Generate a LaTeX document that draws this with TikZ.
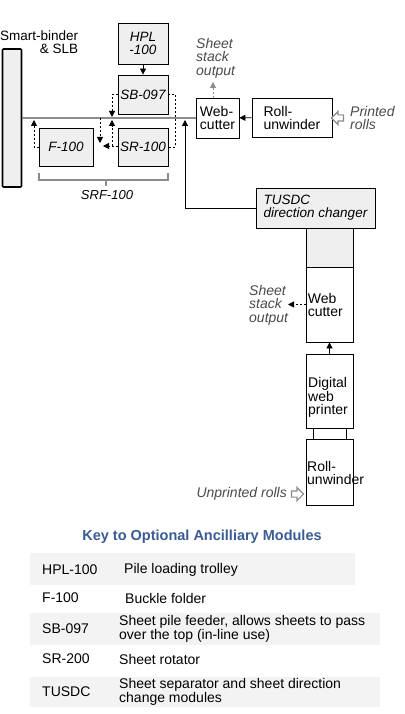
\documentclass[tikz,border=0pt]{standalone}
\usepackage{fontspec}
\setmainfont{Liberation Sans}
\usetikzlibrary{arrows.meta,shapes.arrows}

\definecolor{boxgrey}{HTML}{EFEFEF}
\definecolor{bandgrey}{HTML}{F3F3F3}
\definecolor{linegrey}{HTML}{8C8C8C}
\definecolor{labelgrey}{HTML}{4A4A4A}
\definecolor{keyblue}{HTML}{3B5B95}

\tikzset{
	module/.style={draw, line width=0.8pt, fill=boxgrey, inner sep=1pt, align=center, font=\fontsize{13.5}{13}\selectfont\itshape},
	whitebox/.style={draw, line width=0.8pt, fill=white, inner sep=1pt, align=left, font=\fontsize{14}{13}\selectfont},
	boxtext/.style={anchor=west, inner sep=0pt, align=left, font=\fontsize{14}{13}\selectfont},
	notetext/.style={text=labelgrey, inner sep=0pt, align=left, font=\fontsize{14}{13.5}\selectfont\itshape},
	flow/.style={line width=0.8pt, -{Triangle[length=6pt,width=6pt]}},
	dashflow/.style={flow, dash pattern=on 2pt off 2pt},
	inarrow/.style={single arrow, draw=linegrey, line width=1.1pt, fill=white, minimum height=12pt, minimum width=12pt, inner xsep=0pt, inner ysep=2.5pt, single arrow head extend=3.5pt},
	keytext/.style={anchor=west, inner sep=0pt, align=left, font=\fontsize{14}{14}\selectfont},
}

\begin{document}
\begin{tikzpicture}[x=1pt, y=-1pt]
\useasboundingbox (0,0) rectangle (404,714);

% upper line
\node[draw, line width=1.6pt, fill=boxgrey, rounded corners=1pt, minimum width=19pt, minimum height=138pt] (binder) at (12,118) {};
\node[anchor=north west, inner sep=0pt, align=right, font=\fontsize{13.5}{12.5}\selectfont] (bindertxt) at (0,31) {Smart-binder\\\& SLB};

\node[module, minimum width=50pt, minimum height=41pt] (hpl) at (143,43.5) {HPL\\-100};
\node[module, minimum width=50pt, minimum height=39pt] (sbox) at (143,94.5) {SB-097};
\node[module, minimum width=54pt, minimum height=38pt] (fold) at (66,147) {F-100};
\node[module, minimum width=50pt, minimum height=38pt] (srot) at (143,147) {SR-100};

\node[whitebox, minimum width=43pt, minimum height=40pt] (wcut) at (217.5,118) {Web-\\cutter};
\node[whitebox, minimum width=80pt, minimum height=39pt] (unw) at (292,117.5) {Roll-\\unwinder};

\draw[linegrey, line width=2pt] (binder.east) -- (wcut.west);
\draw[flow] (hpl) -- (sbox);
\draw[flow] (unw) -- (wcut);

\coordinate (fup) at (34,120);
\coordinate (sbdn) at (112,117);
\coordinate (srup) at (112,120);
\coordinate (srfrom) at (112,146);
\coordinate (srleft) at (103,146);
\coordinate (lndn) at (100,143);
\draw[dashflow] (fold.west) -| (fup);
\draw[dashflow] (sbox.west) -| (sbdn);
\draw[dashflow] (srot.west |- srleft) -- (srleft);
\draw[dashflow] (srfrom) -- (srup);
\draw[dashflow] (lndn |- binder.east) -- (lndn);
\draw[line width=0.8pt, dash pattern=on 2pt off 2pt] (sbox.east) -- ++(7,0) |- (srot.east);

\draw[linegrey, line width=1.2pt] (39,173) -- (39,180) -- (168,180) -- (168,173);
\draw[linegrey, line width=1.2pt] (106,180) -- (106,186);
\node[font=\fontsize{13}{13}\selectfont\itshape] (srf) at (107,195) {SRF-100};

\coordinate (so1) at (213,82);
\draw[dashflow, linegrey] (so1 |- wcut.north) -- (so1);
\node[notetext, anchor=west] (so1txt) at (196,58) {Sheet\\stack\\output};
\node[inarrow, shape border rotate=180] (prarrow) at (339,118) {};
\node[notetext, anchor=west] (prtxt) at (350,118) {Printed\\rolls};

% lower line
\node[module, align=left, minimum width=119pt, minimum height=40pt] (tusdc) at (315.5,208) {TUSDC\\direction changer};
\coordinate (jn) at (185,120);
\draw[flow] (tusdc.west) -| (jn);

\node[draw, line width=0.8pt, fill=boxgrey, minimum width=47pt, minimum height=39pt] (gbox) at (329.5,247.5) {};
\node[draw, line width=0.8pt, fill=white, minimum width=47pt, minimum height=75pt] (wcut2) at (329.5,304.5) {};
\node[draw, line width=0.8pt, fill=white, minimum width=47pt, minimum height=74pt] (dwp) at (329.5,391) {};
\node[draw, line width=0.8pt, fill=white, minimum width=47pt, minimum height=66pt] (unw2) at (329.5,472) {};
\node[boxtext] (wcut2txt) at ([xshift=2pt]wcut2.west) {Web\\cutter};
\node[boxtext] (dwptxt) at (308,397) {Digital\\web\\printer};
\node[boxtext] (unw2txt) at (307,473) {Roll-\\unwinder};

\draw[flow] (dwp) -- (wcut2);
\draw[line width=0.8pt] ([xshift=-16.5pt]dwp.south) -- ([xshift=-16.5pt]unw2.north);
\draw[line width=0.8pt] ([xshift=16.5pt]dwp.south) -- ([xshift=16.5pt]unw2.north);

\coordinate (so2) at (288,304.5);
\draw[dashflow] (wcut2.west) -- (so2);
\node[notetext, anchor=west] (so2txt) at (249,305) {Sheet\\stack\\output};
\node[inarrow] (uparrow) at (296,494) {};
\node[notetext, anchor=east] (uptxt) at (287,494) {Unprinted rolls};

% key
\node[text=keyblue, font=\bfseries\fontsize{14.5}{16}\selectfont] (keytitle) at (202,537) {Key to Optional Ancilliary Modules};
\fill[bandgrey] (30,553) rectangle (355,585);
\fill[bandgrey] (30,613) rectangle (380,645);
\fill[bandgrey] (30,677) rectangle (380,707);
\foreach \ya/\xb/\code/\desc [count=\i] in {570/124/HPL-100/Pile loading trolley, 598/125/F-100/Buckle folder, 629/119/SB-097/{Sheet pile feeder, allows sheets to pass\\over the top (in-line use)}, 659/119/SR-200/Sheet rotator, 692/119/TUSDC/{Sheet separator and sheet direction\\change modules}} {
	\node[keytext] (code\i) at (42,\ya) {\code};
	\node[keytext] (desc\i) at (\xb,\ya) {\desc};
}

\end{tikzpicture}
\end{document}
